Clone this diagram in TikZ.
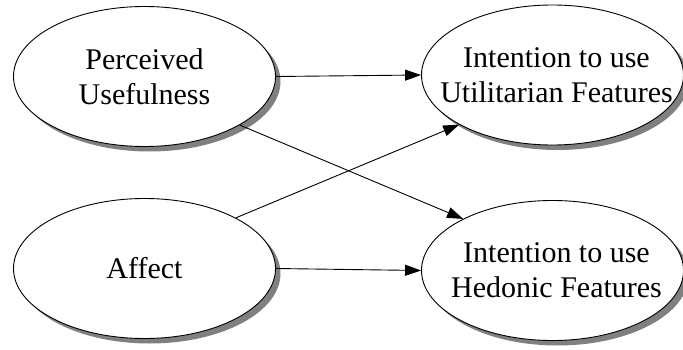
\documentclass[tikz,border=0pt]{standalone}
\usepackage{fontspec}
\setmainfont{Liberation Serif}
\usetikzlibrary{shapes.geometric,shadows,arrows.meta}
\begin{document}
\begin{tikzpicture}[x=1pt,y=1pt,
  construct/.style={ellipse, draw=black, line width=0.9pt, fill=white,
    minimum width=262pt, minimum height=140pt, inner sep=0pt,
    drop shadow={shadow xshift=5pt, shadow yshift=-5pt, fill=black!50, opacity=1}},
  caption/.style={align=center, inner sep=0pt, font=\fontsize{30}{35}\selectfont},
  link/.style={line width=0.9pt, -{Triangle[length=16pt,width=11pt]}}]
\useasboundingbox (0,0) rectangle (683,349);
\node[construct] (P) at (144.5,272.5) {};
\node[construct] (A) at (144.5,80.5) {};
\node[construct] (U) at (552.5,274) {};
\node[construct] (H) at (552.5,78.5) {};
\node[caption] (Pt) at (P.center) {Perceived\\Usefulness};
\node[caption] (At) at (A.center) {Affect};
\node[caption] (Ut) at ([xshift=4pt]U.center) {Intention to use\\Utilitarian Features};
\node[caption] (Ht) at ([xshift=4pt]H.center) {Intention to use\\Hedonic Features};
\draw[link] (P.east) -- (U.west);
\draw[link] (A.east) -- (H.west);
\draw[link] (P.-27) -- (H.150);
\draw[link] (A.29) -- (U.208);
\end{tikzpicture}
\end{document}
